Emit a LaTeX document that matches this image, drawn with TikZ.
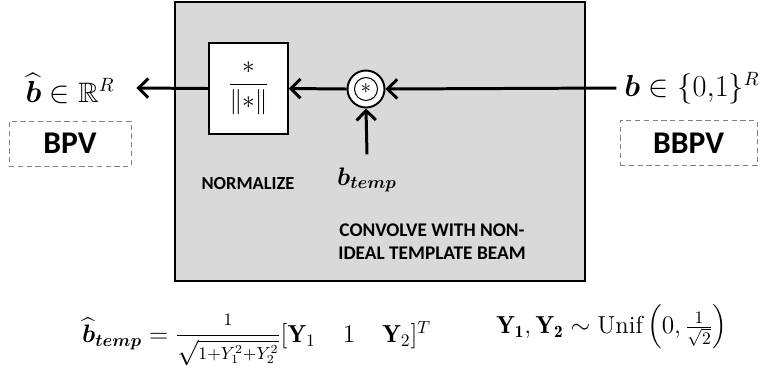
\documentclass[tikz,border=0pt]{standalone}
\usepackage{amsmath,amssymb,bm}
\usepackage{fontspec}
\setsansfont{Carlito}
\usetikzlibrary{arrows.meta}
\definecolor{boxgray}{RGB}{217,217,217}

\begin{document}
\begin{tikzpicture}[
    x=0.02cm, y=-0.02cm,
    block/.style={draw, line width=1.1pt},
    tag/.style={draw=gray, densely dashed, line width=0.5pt, minimum height=0.9cm, font=\sffamily\bfseries\fontsize{18}{20}\selectfont},
    caption/.style={font=\sffamily\bfseries\fontsize{10.5}{13}\selectfont, align=center},
    label/.style={font=\fontsize{16}{19}\selectfont},
    formula/.style={font=\fontsize{14}{17}\selectfont},
    arrow/.style={line width=1.7pt, -{Straight Barb[length=5.5pt,width=11pt]}}
]
\useasboundingbox (0,0) rectangle (769,380);

% Frame
\node[block, fill=boxgray, minimum width=8.22cm, minimum height=5.58cm] (frame) at (380,141.5) {};

% Normalize block
\node[block, line width=0.9pt, fill=white, minimum width=1.58cm, minimum height=1.82cm,
      font=\fontsize{14}{17}\selectfont] (norm) at (248.5,88.5) {$\dfrac{*}{\|{*}\|}$};
\node[caption] (normtxt) at (248,184) {NORMALIZE};

% Convolution
\node[circle, draw, line width=1.1pt, fill=white, minimum size=0.74cm] (conv) at (366,89) {};
\node[circle, draw, line width=0.6pt, minimum size=0.46cm, inner sep=0pt,
      font=\fontsize{12}{14}\selectfont] (convin) at (conv.center) {$*$};
\node[font=\fontsize{14}{17}\selectfont] (btemp) at (367,180) {$\bm{b_{temp}}$};
\node[caption, font=\sffamily\bfseries\fontsize{11}{13}\selectfont] (convtxt) at (432,242) {CONVOLVE WITH NON-\\IDEAL TEMPLATE BEAM};

% Inputs / outputs
\node[label] (bhat) at (70,88) {$\widehat{\bm b}\in\mathbb{R}^R$};
\node[label] (b) at (692,88) {$\bm b\in\{0{,}1\}^R$};
\node[tag, minimum width=2.44cm] (bpv) at (70,143.5) {BPV};
\node[tag, minimum width=2.74cm] (bbpv) at (688.5,143) {BBPV};

% Arrows
\draw[arrow] (b.west) ++(-2,0) -- (conv.east);
\draw[arrow] (conv.west) -- (norm.east);
\draw[arrow] (norm.west) -- ([xshift=9pt]bhat.east);
\draw[arrow] ([yshift=4pt]btemp.north) -- (conv.south);

% Formulas
\node[formula, anchor=west] (eqtemp) at (76,340)
    {$\widehat{\bm b}_{\bm{temp}}=\dfrac{\scriptstyle 1}{\sqrt{\scriptstyle 1+Y_1^2+Y_2^2}}[\mathbf{Y}_1\hspace{1.1em}1\hspace{1.1em}\mathbf{Y}_2]^T$};
\node[formula] (equnif) at (612,327)
    {$\mathbf{Y_1},\mathbf{Y_2}\sim\mathrm{Unif}\left(0,\tfrac{1}{\sqrt{2}}\right)$};

\end{tikzpicture}
\end{document}
